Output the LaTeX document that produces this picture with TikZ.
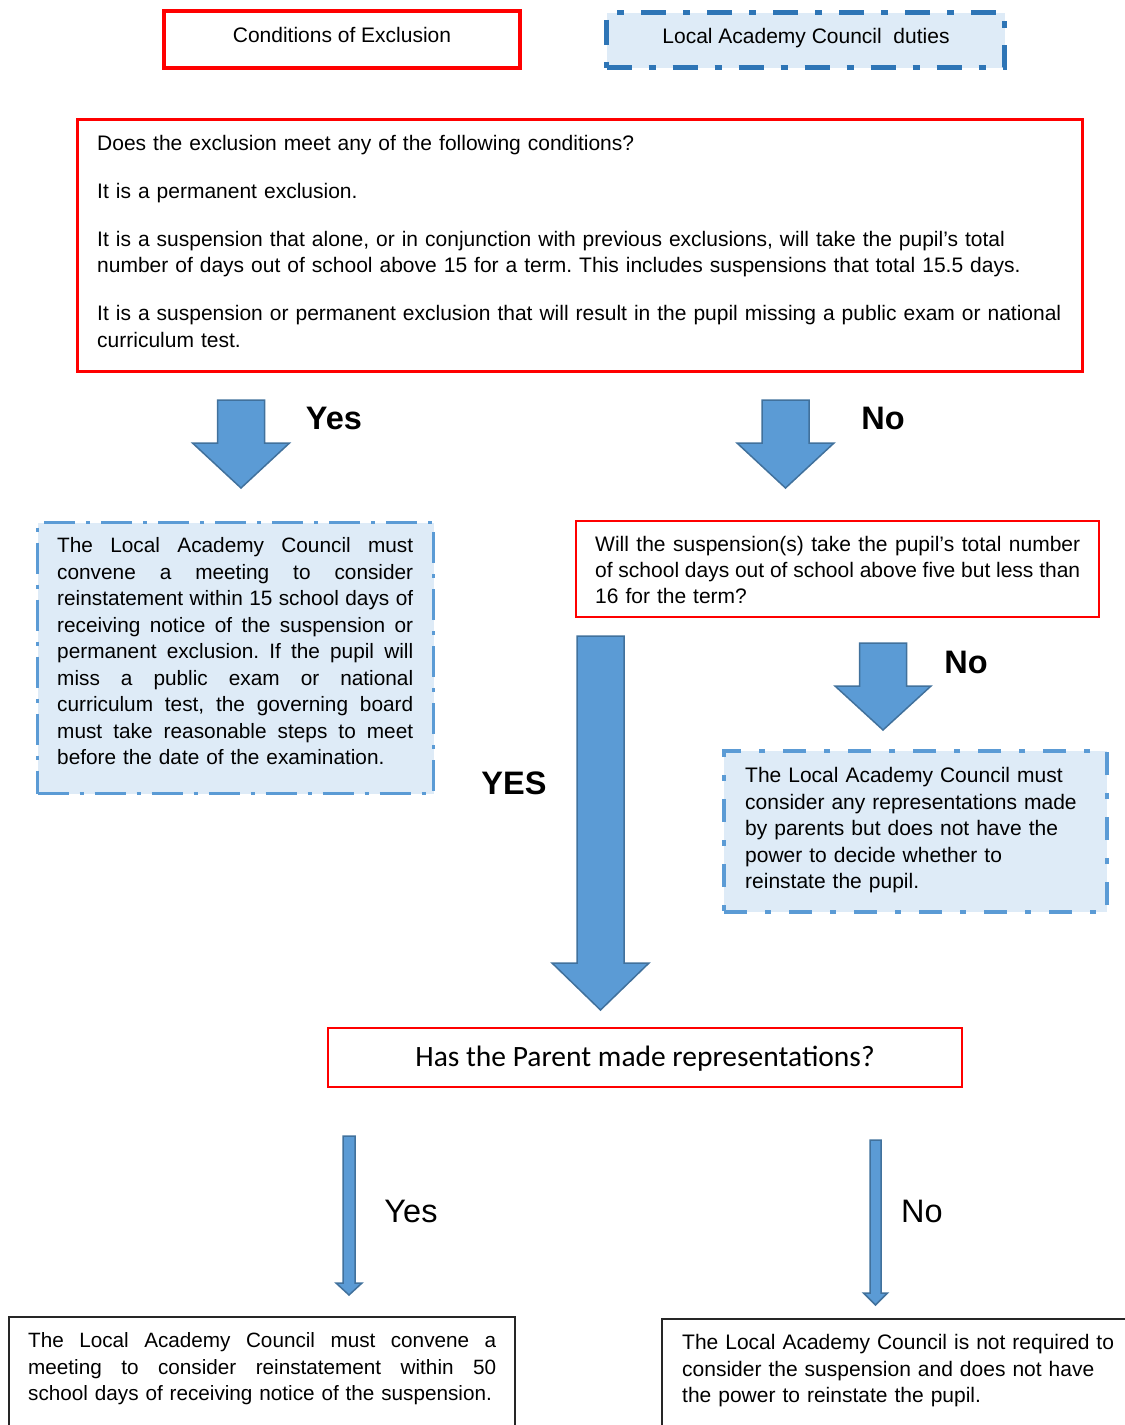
\documentclass[tikz,border=0pt]{standalone}
\usepackage{fontspec}
\setmainfont{Liberation Sans}
\newfontfamily\calibfont{Carlito}
\frenchspacing
\definecolor{lightfill}{HTML}{DEEBF7}
\definecolor{darkdash}{HTML}{2E75B6}
\definecolor{middash}{HTML}{5B9BD5}
\definecolor{arrfill}{HTML}{5B9BD5}
\definecolor{arredge}{HTML}{41719C}
\newcommand{\jl}[2]{\makebox[#1][s]{\spaceskip=0pt\xspaceskip=0pt #2}}
\newcommand{\blkarrow}[7]{%
  \draw[blockarr] (#2-#5,#3) -- (#2+#5,#3) -- (#2+#5,#4-#7) -- (#2+#6,#4-#7)
    -- (#2,#4) coordinate (#1) -- (#2-#6,#4-#7) -- (#2-#5,#4-#7) -- cycle;}
\begin{document}
\begin{tikzpicture}[x=1pt,y=-1pt,
  frame/.style={rectangle, inner sep=0pt, outer sep=0pt, anchor=north west},
  redframe/.style={frame, draw=red},
  bluedashA/.style={frame, draw=darkdash, fill=lightfill, line width=5pt,
      dash pattern=on 25pt off 17pt on 7pt off 17pt},
  bluedashB/.style={frame, draw=middash, fill=lightfill, line width=3pt,
      dash pattern=on 31pt off 11pt on 4pt off 11pt},
  bluedashC/.style={frame, draw=middash, fill=lightfill, line width=4.5pt,
      dash pattern=on 23pt off 18pt on 6pt off 18pt},
  blackframe/.style={frame, draw=black!85, line width=2pt},
  txt/.style={inner sep=0pt, anchor=base west, align=left,
      font=\fontsize{21}{26.5}\selectfont},
  lbl/.style={inner sep=0pt, anchor=base, font=\fontsize{21}{26.5}\selectfont},
  boldlbl/.style={inner sep=0pt, anchor=base, font=\fontsize{32.5}{38}\selectfont\bfseries},
  plainlbl/.style={inner sep=0pt, anchor=base, font=\fontsize{32.5}{38}\selectfont},
  blockarr/.style={fill=arrfill, draw=arredge, line width=1.5pt, line join=miter}
]
\useasboundingbox (0,0) rectangle (1125,1425);
\clip (0,0) rectangle (1125,1425);

% header boxes
\node[redframe, line width=4pt, minimum width=356pt, minimum height=57pt] (cond) at (164,11) {};
\node[lbl] (condtext) at (342,42.5) {Conditions of Exclusion};
\node[bluedashA, minimum width=398pt, minimum height=55pt] (lac) at (606.5,12.5) {};
\node[lbl] (lactext) at (806,43.5) {Local Academy Council\ \ duties};

% main question box
\node[redframe, line width=3pt, minimum width=1005pt, minimum height=252pt] (main) at (77.5,119.5) {};
\node[txt, text width=980pt] (maintext) at (97,150.5) {%
Does the exclusion meet any of the following conditions?\\[21pt]
It is a permanent exclusion.\\[21.5pt]
It is a suspension that alone, or in conjunction with previous exclusions, will take the pupil’s total\\
number of days out of school above 15 for a term. This includes suspensions that total 15.5 days.\\[21.5pt]
It is a suspension or permanent exclusion that will result in the pupil missing a public exam or national\\
curriculum test.};

% first arrows
\blkarrow{yestip}{241}{400}{488}{23.5}{48.5}{45}
\node[boldlbl] (yes1) at (334,429) {Yes};
\blkarrow{notip}{785.5}{400}{488}{23.5}{48.5}{45}
\node[boldlbl] (no1) at (883,429) {No};

% left blue box
\node[bluedashB, minimum width=396pt, minimum height=271pt] (left) at (37.5,522.5) {};
\node[txt, text width=370pt, font=\fontsize{20.8}{26.5}\selectfont] (lefttext) at (57,552.5) {%
\jl{356pt}{The Local Academy Council must}\\
\jl{356pt}{convene a meeting to consider}\\
\jl{356pt}{reinstatement within 15 school days of}\\
\jl{356pt}{receiving notice of the suspension or}\\
\jl{356pt}{permanent exclusion. If the pupil will}\\
\jl{356pt}{miss a public exam or national}\\
\jl{356pt}{curriculum test, the governing board}\\
\jl{356pt}{must take reasonable steps to meet}\\
before the date of the examination.};

% right red question
\node[redframe, line width=2pt, minimum width=523pt, minimum height=96pt] (rq) at (576,521) {};
\node[txt, text width=500pt, font=\fontsize{21}{26}\selectfont] (rqtext) at (595,551.5) {%
\jl{485pt}{Will the suspension(s) take the pupil’s total number}\\
\jl{485pt}{of school days out of school above five but less than}\\
16 for the term?};

% big YES arrow
\blkarrow{bigtip}{600.5}{636}{1010}{23.5}{48.5}{47}
\node[boldlbl] (yes2) at (514,794) {YES};

% small No arrow
\blkarrow{no2tip}{883}{643}{730}{23.5}{48}{44}
\node[boldlbl] (no2) at (966,673) {No};

% right blue box
\node[bluedashC, minimum width=383pt, minimum height=161pt] (right) at (724,751) {};
\node[txt, text width=370pt] (righttext) at (745,782.5) {%
The Local Academy Council must\\
consider any representations made\\
by parents but does not have the\\
power to decide whether to\\
reinstate the pupil.};

% parent question
\node[redframe, line width=2pt, minimum width=634pt, minimum height=59pt] (parent) at (328,1028) {};
\node[inner sep=0pt, anchor=base, font=\calibfont\fontsize{29.5}{34}\selectfont] (parenttext) at (645,1066) {Has the Parent made representations?};

% thin arrows
\blkarrow{yes3tip}{349}{1136}{1295}{6}{13}{12}
\node[plainlbl] (yes3) at (411,1222) {Yes};
\blkarrow{no3tip}{875.5}{1140}{1305}{5.5}{12}{12}
\node[plainlbl] (no3) at (922,1222) {No};

% bottom boxes
\node[blackframe, minimum width=506pt, minimum height=133pt] (bl) at (9,1317) {};
\node[txt, text width=500pt, font=\fontsize{20.7}{26.5}\selectfont] (bltext) at (28,1347.5) {%
\jl{468pt}{The Local Academy Council must convene a}\\
\jl{468pt}{meeting to consider reinstatement within 50}\\
school days of receiving notice of the suspension.};
\node[blackframe, minimum width=468pt, minimum height=131pt] (br) at (662,1319) {};
\node[txt, text width=440pt] (brtext) at (682,1349.5) {%
The Local Academy Council is not required to\\
consider the suspension and does not have\\
the power to reinstate the pupil.};
\end{tikzpicture}
\end{document}
